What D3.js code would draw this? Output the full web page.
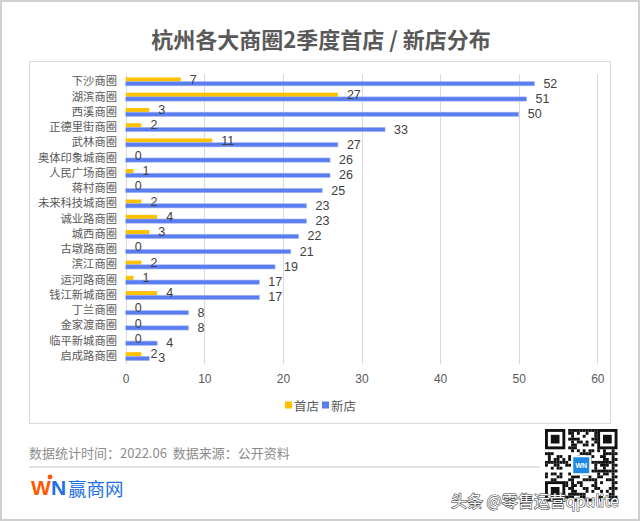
<!DOCTYPE html>
<html>
<head>
<meta charset="utf-8">
<script src="https://cdn.jsdelivr.net/npm/d3@7"></script>
<style>
  html, body { margin: 0; padding: 0; background: #fff; }
  svg { display: block; }
</style>
</head>
<body>
<script>
const categories = ["下沙商圈","湖滨商圈","西溪商圈","正德里街商圈","武林商圈","奥体印象城商圈","人民广场商圈","蒋村商圈","未来科技城商圈","诚业路商圈","城西商圈","古墩路商圈","滨江商圈","运河路商圈","钱江新城商圈","丁兰商圈","金家渡商圈","临平新城商圈","启成路商圈"];
const firstStores = [7,27,3,2,11,0,1,0,2,4,3,0,2,1,4,0,0,0,2];
const newStores = [52,51,50,33,27,26,26,25,23,23,22,21,19,17,17,8,8,4,3];
const seriesNames = ["首店","新店"];
const xTicks = [0,10,20,30,40,50,60];
const titleText = "杭州各大商圈2季度首店 / 新店分布";
const footerText = "数据统计时间：2022.06  数据来源：公开资料";

const W = 640, H = 521;
const colors = {"首店": "#FFC000", "新店": "#5A7DF0"};
const cjk = "'Noto Sans CJK SC', 'Noto Sans', sans-serif";
const latin = "'Liberation Sans', Arial, 'Noto Sans CJK SC', sans-serif";

const svg = d3.select("body").append("svg").attr("width", W).attr("height", H);
svg.append("rect").attr("width", W).attr("height", H).attr("fill", "#fff");
svg.append("rect").attr("x", 1).attr("y", 1).attr("width", W - 2).attr("height", H - 2)
  .attr("fill", "none").attr("stroke", "#cfcfcf").attr("stroke-width", 2);

// title
svg.append("text").attr("x", 321).attr("y", 38).attr("text-anchor", "middle")
  .attr("dominant-baseline", "central")
  .style("font-family", cjk).style("font-size", "22px").style("font-weight", "700")
  .attr("fill", "#595959").text(titleText);

// chart box
svg.append("rect").attr("x", 29.5).attr("y", 61.5).attr("width", 581).attr("height", 362)
  .attr("fill", "none").attr("stroke", "#d9d9d9").attr("stroke-width", 1);

const x = d3.scaleLinear().domain([0, 60]).range([125.7, 597.3]);
const y = d3.scaleBand().domain(categories).range([74, 364]);
const ySub = d3.scaleBand().domain(seriesNames)
  .range([y.bandwidth() / 2 - 4.2, y.bandwidth() / 2 + 4.2]);

// gridlines
svg.append("g").selectAll("line").data(xTicks).join("line")
  .attr("x1", d => Math.round(x(d)) + 0.5).attr("x2", d => Math.round(x(d)) + 0.5)
  .attr("y1", 74).attr("y2", 364)
  .attr("stroke", "#d9d9d9").attr("stroke-width", 1);

// x axis labels
const xAxis = svg.append("g").attr("transform", "translate(0,374)")
  .call(d3.axisBottom(x).tickValues(xTicks).tickSize(0).tickPadding(0));
xAxis.select(".domain").remove();
xAxis.selectAll("text").attr("fill", "#595959").attr("dy", "0.71em")
  .style("font-family", latin).style("font-size", "12px");

// category labels
const yAxis = svg.append("g").attr("transform", "translate(117,0)")
  .call(d3.axisLeft(y).tickSize(0).tickPadding(0));
yAxis.select(".domain").remove();
yAxis.selectAll("text").attr("fill", "#595959")
  .style("font-family", cjk).style("font-size", "11.3px");

const rows = categories.map((c, i) => ({cat: c, vals: [
  {s: "首店", v: firstStores[i]}, {s: "新店", v: newStores[i]}]}));

const groups = svg.append("g").selectAll("g").data(rows).join("g")
  .attr("transform", d => `translate(0,${y(d.cat)})`);

groups.selectAll("rect").data(d => d.vals).join("rect")
  .attr("x", x(0))
  .attr("y", d => ySub(d.s))
  .attr("width", d => x(d.v) - x(0))
  .attr("height", ySub.bandwidth())
  .attr("fill", d => colors[d.s])
  .attr("stroke", d => d.s === "新店" ? "#9fb3f7" : "none")
  .attr("stroke-width", 0.6);

groups.selectAll("text.val").data(d => d.vals).join("text")
  .attr("class", "val")
  .attr("x", d => x(d.v) + 9)
  .attr("y", d => ySub(d.s) + ySub.bandwidth() / 2)
  .attr("dominant-baseline", "central")
  .attr("fill", "#404040")
  .style("font-family", latin).style("font-size", "12.5px")
  .text(d => d.v);

// legend
const legend = svg.append("g").attr("transform", "translate(0,405)");
const legX = [{s: "首店", x: 285}, {s: "新店", x: 322}];
legend.selectAll("rect").data(legX).join("rect")
  .attr("x", d => d.x).attr("y", -3.5).attr("width", 7).attr("height", 7)
  .attr("fill", d => colors[d.s]);
legend.selectAll("text").data(legX).join("text")
  .attr("x", d => d.x + 9).attr("y", 0).attr("dominant-baseline", "central")
  .attr("fill", "#595959").style("font-family", cjk).style("font-size", "12.5px")
  .text(d => d.s);

// footer
svg.append("text").attr("x", 29).attr("y", 452).attr("dominant-baseline", "central")
  .attr("fill", "#8c8c8c").style("font-family", cjk).style("font-size", "13px")
  .attr("xml:space", "preserve").style("white-space", "pre")
  .text(footerText);
svg.append("line").attr("x1", 29).attr("x2", 540).attr("y1", 467).attr("y2", 467)
  .attr("stroke", "#e2e2e2").attr("stroke-width", 2);

// logo
const logo = svg.append("g").attr("transform", "translate(31,487)");
logo.append("text").attr("x", 0).attr("y", 0).attr("dominant-baseline", "central")
  .style("font-family", latin).style("font-size", "21px").style("font-weight", "700")
  .attr("fill", "#ff5a00").text("W");
logo.append("circle").attr("cx", 19).attr("cy", -10).attr("r", 2.4).attr("fill", "#ff5a00");
logo.append("text").attr("x", 20).attr("y", 0).attr("dominant-baseline", "central")
  .style("font-family", latin).style("font-size", "21px").style("font-weight", "700")
  .attr("fill", "#1f6fe5").text("N");
logo.append("text").attr("x", 37).attr("y", 1).attr("dominant-baseline", "central")
  .style("font-family", cjk).style("font-size", "18.5px")
  .attr("fill", "#1f6fe5").text("赢商网");

// QR code (decorative)
const qr = svg.append("g").attr("transform", "translate(545,429)");
const N = 25, m = 2.9;
const cells = [];
function inFinder(i, j) {
  const f = [[0,0],[0,N-7],[N-7,0]];
  return f.some(([a,b]) => i >= a && i < a + 7 && j >= b && j < b + 7);
}
for (let i = 0; i < N; i++) for (let j = 0; j < N; j++) {
  if (inFinder(i, j)) continue;
  if ((i === 7 || j === 7) && (i < 8 && j < 8)) continue;
  const h = (i * 31 + j * 17 + i * j * 7 + (i ^ j) * 5) % 11;
  if (h < 5) cells.push([i, j]);
}
qr.selectAll("rect.c").data(cells).join("rect").attr("class", "c")
  .attr("x", d => d[1] * m).attr("y", d => d[0] * m)
  .attr("width", m).attr("height", m).attr("fill", "#111");
[[0,0],[0,N-7],[N-7,0]].forEach(([a,b]) => {
  qr.append("rect").attr("x", b*m + m/2).attr("y", a*m + m/2).attr("width", 6*m).attr("height", 6*m)
    .attr("fill", "none").attr("stroke", "#111").attr("stroke-width", m);
  qr.append("rect").attr("x", (b+2)*m).attr("y", (a+2)*m).attr("width", 3*m).attr("height", 3*m).attr("fill", "#111");
});
qr.append("rect").attr("x", N*m/2 - 10).attr("y", N*m/2 - 10).attr("width", 20).attr("height", 20).attr("fill", "#fff");
qr.append("rect").attr("x", N*m/2 - 8).attr("y", N*m/2 - 8).attr("width", 16).attr("height", 16).attr("fill", "#1e88e5");
qr.append("text").attr("x", N*m/2).attr("y", N*m/2).attr("text-anchor", "middle").attr("dominant-baseline", "central")
  .style("font-family", latin).style("font-size", "7px").style("font-weight", "700").attr("fill", "#fff").text("WN");

// watermark
svg.append("text").attr("x", 451).attr("y", 500).attr("dominant-baseline", "central")
  .style("font-family", cjk).style("font-size", "16px")
  .attr("fill", "#fff").attr("stroke", "#3a3a3a").attr("stroke-width", 1.1)
  .attr("paint-order", "stroke")
  .text("头条 @零售运营qpulite");
</script>
</body>
</html>
